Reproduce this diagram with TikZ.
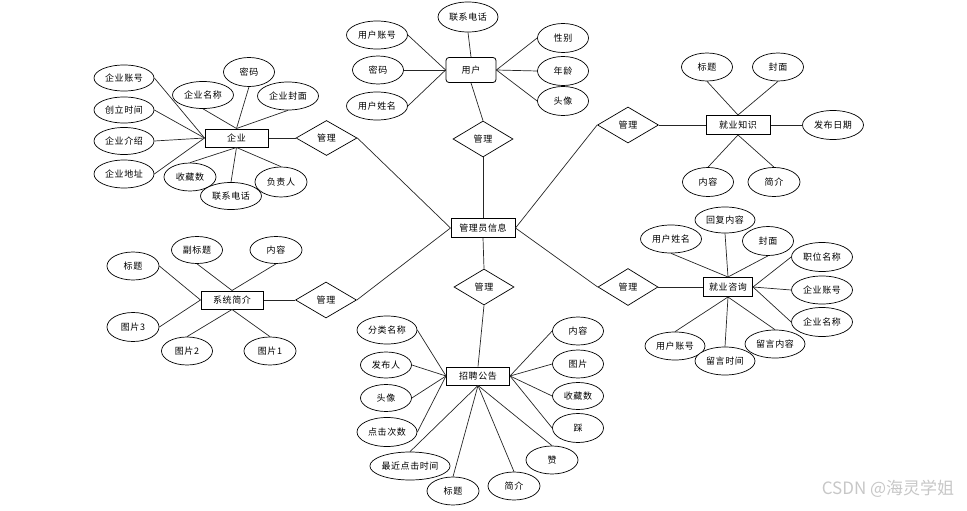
\documentclass[tikz,border=0pt]{standalone}
\usepackage{fontspec}
\newfontfamily\cjk{Noto Sans CJK SC}
\newfontfamily\cjksp[LetterSpace=6]{Noto Sans CJK SC}
\usetikzlibrary{shapes.geometric}
\tikzset{
  base/.style={font=\cjksp\fontsize{9}{10}\selectfont, inner sep=0pt, text=black},
  attr/.style={base, ellipse, draw, fill=white, line width=0.7pt, minimum width=52pt, minimum height=28pt},
  ent/.style={base, rectangle, draw, fill=white, line width=1pt, minimum width=63pt, minimum height=18pt},
  rel/.style={base, diamond, draw, fill=white, line width=0.7pt, aspect=1.67, minimum width=61pt, minimum height=36pt},
  lk/.style={line width=0.7pt, draw=black!85}
}
\begin{document}
\begin{tikzpicture}[x=1pt,y=-1pt]
\useasboundingbox (0,0) rectangle (967,511);

% central
\node[ent, minimum width=64pt, minimum height=19pt] (gly) at (483,228) {管理员信息};

% user cluster
\node[ent, rounded corners=3pt, minimum width=50pt, minimum height=25pt, line width=0.8pt] (yh) at (471,70) {用户};
\node[attr, minimum width=60pt, minimum height=30pt] (yh1) at (468,17) {联系电话};
\node[attr, minimum width=61pt] (yh2) at (377,35) {用户账号};
\node[attr, minimum width=51pt] (yh3) at (378,70) {密码};
\node[attr, minimum width=61pt] (yh4) at (377,106) {用户姓名};
\node[attr, minimum width=51pt, minimum height=29pt] (yh5) at (563,38) {性别};
\node[attr, minimum width=51pt, minimum height=29pt] (yh6) at (563,71) {年龄};
\node[attr, minimum width=51pt, minimum height=29pt] (yh7) at (563,101) {头像};
\node[rel, minimum width=60pt] (gl1) at (483,139) {管理};
\draw[lk] (yh2.east) -- (yh.west);
\draw[lk] (yh3.east) -- (yh.west);
\draw[lk] (yh4.east) -- (yh.west);
\draw[lk] (yh1.south) -- (yh.north);
\draw[lk] (yh5.west) -- (yh.east);
\draw[lk] (yh6.west) -- (yh.east);
\draw[lk] (yh7.west) -- (yh.east);
\draw[lk] (yh.south) -- (gl1.north);
\draw[lk] (gl1.south) -- (gly.north);

% enterprise cluster
\node[ent] (qy) at (236.5,138) {企业};
\node[rel, minimum height=35pt] (gl2) at (326.5,138) {管理};
\node[attr, minimum width=60pt, minimum height=26pt] (qy1) at (124,78) {企业账号};
\node[attr, minimum width=60pt, minimum height=26pt] (qy2) at (124,110) {创立时间};
\node[attr, minimum width=60pt, minimum height=27pt] (qy3) at (124,141) {企业介绍};
\node[attr, minimum width=60pt, minimum height=28pt] (qy4) at (124,174) {企业地址};
\node[attr, minimum width=61pt, minimum height=27pt] (qy5) at (203,95) {企业名称};
\node[attr, minimum width=51pt, minimum height=29pt] (qy6) at (249,72) {密码};
\node[attr, minimum width=61pt] (qy7) at (288,96) {企业封面};
\node[attr] (qy8) at (190,177) {收藏数};
\node[attr, minimum height=30pt] (qy10) at (281,182) {负责人};
\node[attr, minimum width=61pt, minimum height=27pt] (qy9) at (231,196) {联系电话};
\foreach \a in {qy1,qy2,qy3,qy4} \draw[lk] (\a.east) -- (qy.west);
\foreach \a in {qy5,qy6,qy7} \draw[lk] (\a.south) -- (qy.north);
\foreach \a in {qy8,qy9,qy10} \draw[lk] (qy.south) -- (\a.north);
\draw[lk] (qy.east) -- (gl2.west);
\draw[lk] (gl2.east) -- (gly.west);

% employment knowledge cluster
\node[ent, minimum width=64pt, minimum height=19pt] (zs) at (738,125) {就业知识};
\node[rel] (gl3) at (628,125) {管理};
\node[attr, minimum width=51pt] (zs1) at (707,67) {标题};
\node[attr, minimum width=51pt] (zs2) at (778,67) {封面};
\node[attr, minimum width=61pt, minimum height=29pt] (zs3) at (833,125) {发布日期};
\node[attr, minimum width=51pt, minimum height=29pt] (zs4) at (708,182) {内容};
\node[attr, minimum width=52pt, minimum height=29pt] (zs5) at (774,182) {简介};
\draw[lk] (zs1.south) -- (zs.north);
\draw[lk] (zs2.south) -- (zs.north);
\draw[lk] (zs.east) -- (zs3.west);
\draw[lk] (zs.south) -- (zs4.north);
\draw[lk] (zs.south) -- (zs5.north);
\draw[lk] (gl3.east) -- (zs.west);
\draw[lk] (gly.east) -- (gl3.west);

% employment consulting cluster
\node[ent, minimum width=49pt, minimum height=19pt] (zx) at (728,287) {就业咨询};
\node[rel, minimum width=60pt, minimum height=37pt] (gl4) at (628,287) {管理};
\node[attr, minimum width=61pt] (zx1) at (671,239) {用户姓名};
\node[attr, minimum width=60pt, minimum height=26pt] (zx2) at (725,220) {回复内容};
\node[attr, minimum width=51pt, minimum height=29pt] (zx3) at (768,241) {封面};
\node[attr, minimum width=61pt, minimum height=29pt] (zx4) at (822,257) {职位名称};
\node[attr, minimum width=61pt] (zx5) at (822,290) {企业账号};
\node[attr, minimum width=61pt, minimum height=29pt] (zx6) at (822,322) {企业名称};
\node[attr, minimum width=60pt] (zx7) at (775,344) {留言内容};
\node[attr, minimum width=60pt] (zx9) at (675,346) {用户账号};
\node[attr, minimum width=60pt] (zx8) at (725,361) {留言时间};
\foreach \a in {zx1,zx2,zx3} \draw[lk] (\a.south) -- (zx.north);
\foreach \a in {zx4,zx5,zx6} \draw[lk] (zx.east) -- (\a.west);
\foreach \a in {zx7,zx8,zx9} \draw[lk] (zx.south) -- (\a.north);
\draw[lk] (gl4.east) -- (zx.west);
\draw[lk] (gly.east) -- (gl4.west);

% system intro cluster
\node[ent, minimum width=62pt] (xt) at (232,300) {系统简介};
\node[rel] (gl5) at (326,300) {管理};
\node[attr] (xt1) at (133,266) {标题};
\node[attr, minimum width=51pt, minimum height=27pt] (xt2) at (197,250) {副标题};
\node[attr, minimum height=27pt] (xt3) at (276,250) {内容};
\node[attr, minimum height=29pt] (xt4) at (133,327) {图片3};
\node[attr, minimum width=51pt] (xt5) at (187,351) {图片2};
\node[attr] (xt6) at (270,351) {图片1};
\draw[lk] (xt1.east) -- (xt.west);
\draw[lk] (xt4.east) -- (xt.west);
\draw[lk] (xt2.south) -- (xt.north);
\draw[lk] (xt3.south) -- (xt.north);
\draw[lk] (xt.south) -- (xt5.north);
\draw[lk] (xt.south) -- (xt6.north);
\draw[lk] (xt.east) -- (gl5.west);
\draw[lk] (gl5.east) -- (gly.west);

% recruitment notice cluster
\node[ent] (zp) at (478,376) {招聘公告};
\node[rel, minimum width=60pt] (gl6) at (484,287) {管理};
\node[attr, minimum width=60pt] (zp1) at (387,330) {分类名称};
\node[attr, minimum width=51pt, minimum height=26pt] (zp2) at (386,365) {发布人};
\node[attr, minimum width=51pt, minimum height=27pt] (zp3) at (386,398) {头像};
\node[attr, minimum width=60pt, minimum height=29pt] (zp4) at (387,432) {点击次数};
\node[attr, minimum width=79pt] (zp5) at (410,466) {最近点击时间};
\node[attr] (zp6) at (453,491) {标题};
\node[attr] (zp7) at (514,486) {简介};
\node[attr] (zp8) at (552,460) {赞};
\node[attr, minimum width=51pt, minimum height=29pt] (zp9) at (578,428) {踩};
\node[attr, minimum width=51pt, minimum height=27pt] (zp10) at (578,396) {收藏数};
\node[attr, minimum width=51pt] (zp11) at (578,364) {图片};
\node[attr, minimum width=51pt] (zp12) at (578,331) {内容};
\foreach \a in {zp1,zp2,zp3,zp4} \draw[lk] (\a.east) -- (zp.west);
\foreach \a in {zp5,zp6,zp7,zp8} \draw[lk] (zp.south) -- (\a.north);
\foreach \a in {zp9,zp10,zp11,zp12} \draw[lk] (zp.east) -- (\a.west);
\draw[lk] (gly.south) -- (gl6.north);
\draw[lk] (gl6.south) -- (zp.north);

% watermark
\node[font=\cjk\fontsize{17}{20}\selectfont, text=black!22, inner sep=0pt] (wm) at (888,489) {CSDN @海灵学姐};
\end{tikzpicture}
\end{document}
